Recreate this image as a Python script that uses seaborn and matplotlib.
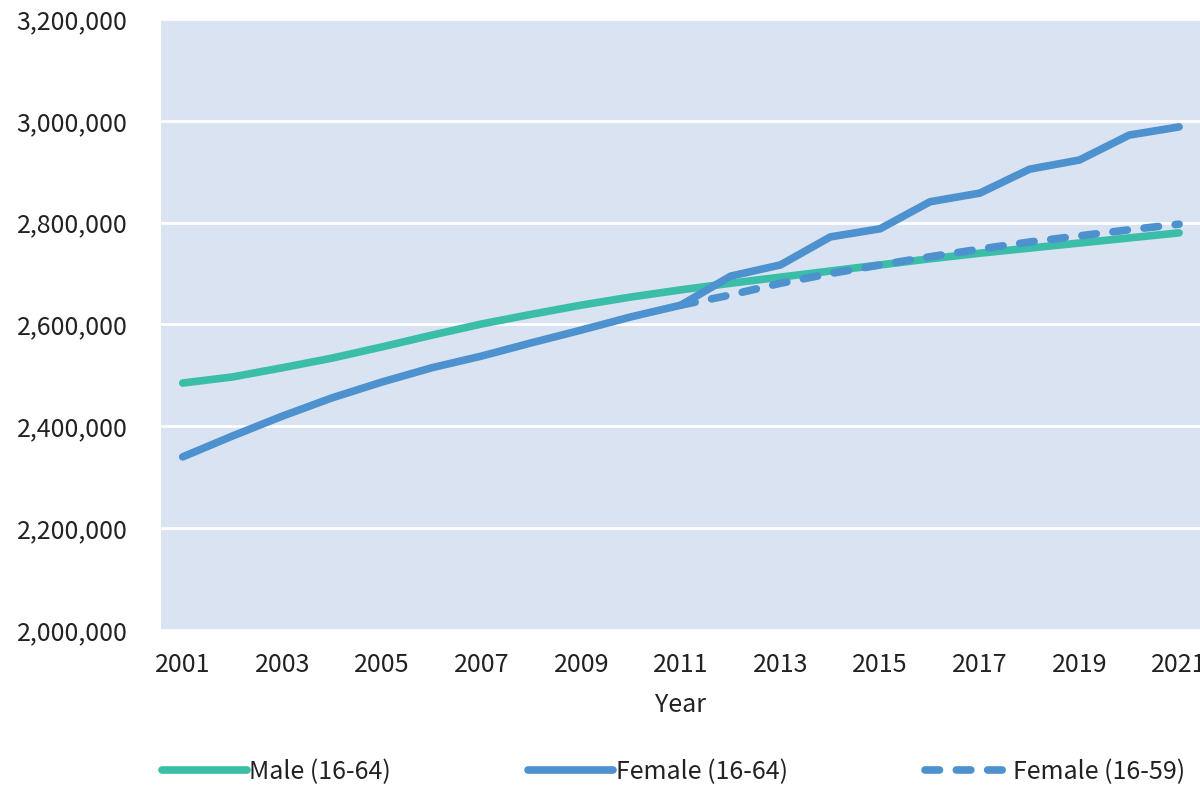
import pandas as pd
import numpy as np
import matplotlib
matplotlib.use("Agg")
import matplotlib.pyplot as plt
from matplotlib.ticker import FuncFormatter
import seaborn as sns

# ---------------------------------------------------------
# Daten
# ---------------------------------------------------------
years = list(range(2001, 2022))
male_16_64 = [2485000, 2497000, 2515000, 2534000, 2556000, 2579000, 2601000,
              2620000, 2638000, 2654000, 2668000, 2681000, 2693000, 2705000,
              2717000, 2729000, 2740000, 2750000, 2760000, 2770000, 2780000]
female_16_64 = [2340000, 2381000, 2420000, 2456000, 2487000, 2515000, 2538000,
                2564000, 2589000, 2615000, 2638000, 2695000, 2717000, 2772000,
                2788000, 2841000, 2858000, 2905000, 2923000, 2972000, 2988000]
female_16_59 = [np.nan] * 10 + [2638000, 2658000, 2681000, 2700000, 2717000,
                                2733000, 2748000, 2762000, 2774000, 2786000, 2797000]

df = pd.DataFrame({
    "Year": years,
    "Male (16-64)": male_16_64,
    "Female (16-64)": female_16_64,
    "Female (16-59)": female_16_59,
})

green = "#3BBEA8"
blue = "#4D91CF"

# ---------------------------------------------------------
# Plot
# ---------------------------------------------------------
sns.set_style("white", {"axes.facecolor": "#DAE3F2"})
plt.rcParams["font.family"] = ["Noto Sans CJK KR", "DejaVu Sans"]

fig = plt.figure(figsize=(12, 7.87), dpi=100)
ax = fig.add_axes([0.134, 0.1995, 0.866, 0.7764])

fs = 18
lw = 5.5
sns.lineplot(data=df, x="Year", y="Male (16-64)", ax=ax, color=green,
             linewidth=lw, solid_capstyle="round", label="Male (16-64)")
sns.lineplot(data=df, x="Year", y="Female (16-64)", ax=ax, color=blue,
             linewidth=lw, solid_capstyle="round", label="Female (16-64)")
sns.lineplot(data=df.dropna(), x="Year", y="Female (16-59)", ax=ax, color=blue,
             linewidth=lw, dashes=False, label="Female (16-59)")
dash_line = ax.lines[-1]
dash_line.set_dashes((1.9, 2.2))
dash_line.set_dash_capstyle("round")

ax.set_xlim(2000.56, 2021.42)
ax.set_ylim(2000000, 3200000)
ax.set_xticks(list(range(2001, 2022, 2)))
ax.set_yticks(list(range(2000000, 3200001, 200000)))
ax.yaxis.set_major_formatter(FuncFormatter(lambda v, p: f"{int(v):,}"))
ax.grid(axis="y", color="white", linewidth=2)
ax.set_axisbelow(True)
for s in ax.spines.values():
    s.set_visible(False)
ax.tick_params(axis="both", length=0, labelsize=fs, colors="#222222")
ax.tick_params(axis="x", pad=16)
ax.tick_params(axis="y", pad=24)
ax.set_xlabel("Year", fontsize=fs, color="#222222", labelpad=10)
ax.set_ylabel("")

handles, labels = ax.get_legend_handles_labels()
ax.get_legend().remove()
fig.legend(handles, labels, loc="center", bbox_to_anchor=(0.561, 0.019),
           ncol=3, frameon=False, fontsize=fs, handlelength=3.4,
           handletextpad=0.1, columnspacing=5.5, labelcolor="#222222")

plt.savefig("out.png", dpi=100)
